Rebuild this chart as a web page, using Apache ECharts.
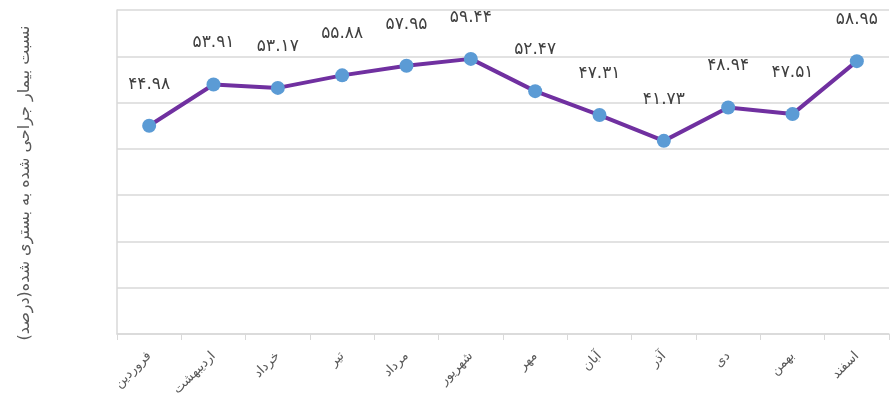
<!DOCTYPE html>
<html>
<head>
<meta charset="utf-8">
<script src="https://cdn.jsdelivr.net/npm/echarts@6/dist/echarts.min.js"></script>
<style>
  html, body { margin: 0; padding: 0; background: #fff; }
  #chart { width: 895px; height: 404px; }
</style>
</head>
<body>
<div id="chart"></div>
<script>
  // ماه‌ها
  const months = ['فروردین', 'اردیبهشت', 'خرداد', 'تیر', 'مرداد', 'شهریور', 'مهر', 'آبان', 'آذر', 'دی', 'بهمن', 'اسفند']
  // درصد
  const ratio = [44.98, 53.91, 53.17, 55.88, 57.95, 59.44, 52.47, 47.31, 41.73, 48.94, 47.51, 58.95]
  const yName = 'نسبت بیمار جراحی شده به بستری شده(درصد)'

  const faDigits = '۰۱۲۳۴۵۶۷۸۹'
  function toFa(v) {
    return v.toFixed(2).replace(/[0-9]/g, d => faDigits[d])
  }

  const myChart = echarts.init(document.getElementById('chart'))
  myChart.setOption({
    animation: false,
    textStyle: { fontFamily: 'DejaVu Sans' },
    grid: { left: 117, right: 6, top: 10, bottom: 70 },
    xAxis: {
      type: 'category',
      data: months,
      boundaryGap: true,
      axisLine: { lineStyle: { color: '#d9d9d9', width: 1.5 } },
      axisTick: { show: true, length: 6, lineStyle: { color: '#d9d9d9' } },
      axisLabel: { rotate: 45, color: '#595959', fontSize: 13, margin: 20 }
    },
    yAxis: {
      type: 'value',
      min: 0,
      max: 70,
      interval: 10,
      name: yName,
      nameLocation: 'middle',
      nameGap: 84,
      nameRotate: 90,
      nameTextStyle: { color: '#595959', fontSize: 16, padding: [0, 22, 0, 0] },
      axisLine: { show: true, lineStyle: { color: '#d9d9d9', width: 1.5 } },
      axisTick: { show: false },
      axisLabel: { show: false },
      splitLine: { lineStyle: { color: '#d9d9d9', width: 1.5 } }
    },
    series: [{
      type: 'line',
      data: ratio,
      symbol: 'circle',
      symbolSize: 14,
      lineStyle: { color: '#7030a0', width: 4 },
      itemStyle: { color: '#5b9bd5' },
      label: {
        show: true,
        position: 'top',
        distance: 26,
        color: '#404040',
        fontSize: 17,
        formatter: p => toFa(p.value)
      }
    }]
  })
</script>
</body>
</html>
